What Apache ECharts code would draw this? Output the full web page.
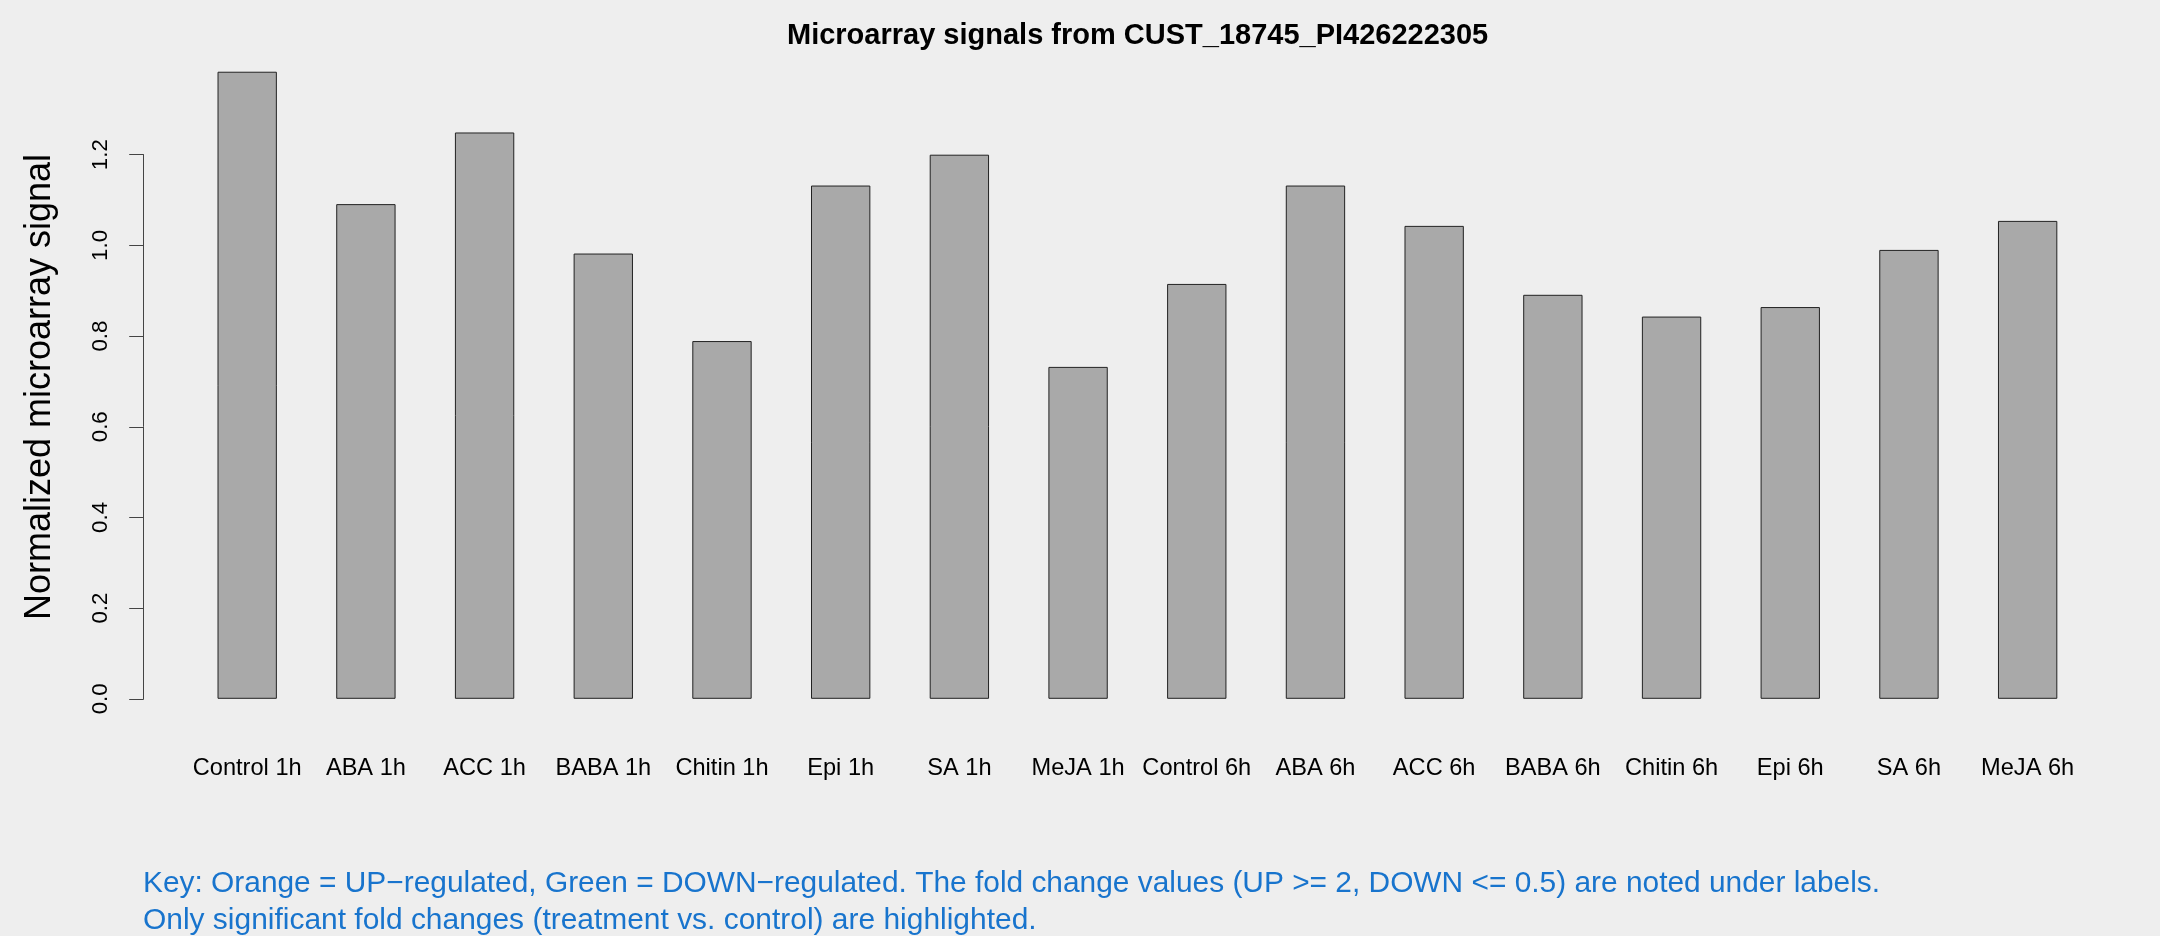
<!DOCTYPE html>
<html>
<head>
<meta charset="utf-8">
<script src="https://cdn.jsdelivr.net/npm/echarts@6/dist/echarts.min.js"></script>
<style>
  html, body { margin: 0; padding: 0; background: #EEEEEE; }
  #chart { width: 2160px; height: 936px; }
</style>
</head>
<body>
<div id="chart"></div>
<script>
const categories = ['Control 1h', 'ABA 1h', 'ACC 1h', 'BABA 1h', 'Chitin 1h', 'Epi 1h', 'SA 1h', 'MeJA 1h',
                    'Control 6h', 'ABA 6h', 'ACC 6h', 'BABA 6h', 'Chitin 6h', 'Epi 6h', 'SA 6h', 'MeJA 6h'];
const signals = [1.383, 1.091, 1.249, 0.982, 0.789, 1.132, 1.200, 0.732,
                 0.915, 1.132, 1.043, 0.891, 0.843, 0.864, 0.990, 1.054];
const yMin = 0, yMax = 1.2, yStep = 0.2;
const titleText = 'Microarray signals from CUST_18745_PI426222305';
const yAxisTitle = 'Normalized microarray signal';
const keyLines = [
  'Key: Orange = UP\u2212regulated, Green = DOWN\u2212regulated. The fold change values (UP >= 2, DOWN <= 0.5) are noted under labels.',
  'Only significant fold changes (treatment vs. control) are highlighted.'
];

const chart = echarts.init(document.getElementById('chart'), null, { renderer: 'canvas' });
const FONT = '"Liberation Sans", Arial, Helvetica, sans-serif';

chart.setOption({
  backgroundColor: '#EEEEEE',
  animation: false,
  grid: { left: 187.85, right: 73, top: 154.7, bottom: 237.2, containLabel: false },
  xAxis: {
    type: 'category',
    data: categories,
    boundaryGap: true,
    axisLine: { show: false },
    axisTick: { show: false },
    axisLabel: { interval: 0, margin: 58, fontSize: 23.6, fontFamily: FONT, color: '#000' },
    splitLine: { show: false }
  },
  yAxis: {
    type: 'value',
    min: yMin, max: yMax, interval: yStep,
    offset: 44.15,
    axisLine: { show: true, lineStyle: { color: '#444', width: 1 } },
    axisTick: { show: true, length: 14.5, lineStyle: { color: '#444', width: 1 } },
    axisLabel: { rotate: 90, margin: 32, fontSize: 22.3, fontFamily: FONT, color: '#000',
                 formatter: v => v.toFixed(1) },
    splitLine: { show: false }
  },
  series: [{
    type: 'bar',
    data: signals,
    barWidth: '50%',
    clip: false,
    itemStyle: { color: '#A9A9A9', borderColor: '#222', borderWidth: 1 }
  }],
  graphic: [
    { type: 'text', x: 1137.6, y: 35.5,
      style: { text: titleText, fontSize: 29, fontWeight: 'bold', fontFamily: FONT, fill: '#000',
               align: 'center', verticalAlign: 'middle' } },
    { type: 'text', x: 40, y: 387, rotation: Math.PI / 2,
      style: { text: yAxisTitle, fontSize: 36, fontFamily: FONT, fill: '#000',
               align: 'center', verticalAlign: 'middle' } },
    { type: 'text', x: 143, y: 884,
      style: { text: keyLines[0], fontSize: 29.88, fontFamily: FONT, fill: '#1874CD',
               align: 'left', verticalAlign: 'middle' } },
    { type: 'text', x: 143, y: 920.5,
      style: { text: keyLines[1], fontSize: 29.95, fontFamily: FONT, fill: '#1874CD',
               align: 'left', verticalAlign: 'middle' } }
  ]
});
</script>
</body>
</html>
